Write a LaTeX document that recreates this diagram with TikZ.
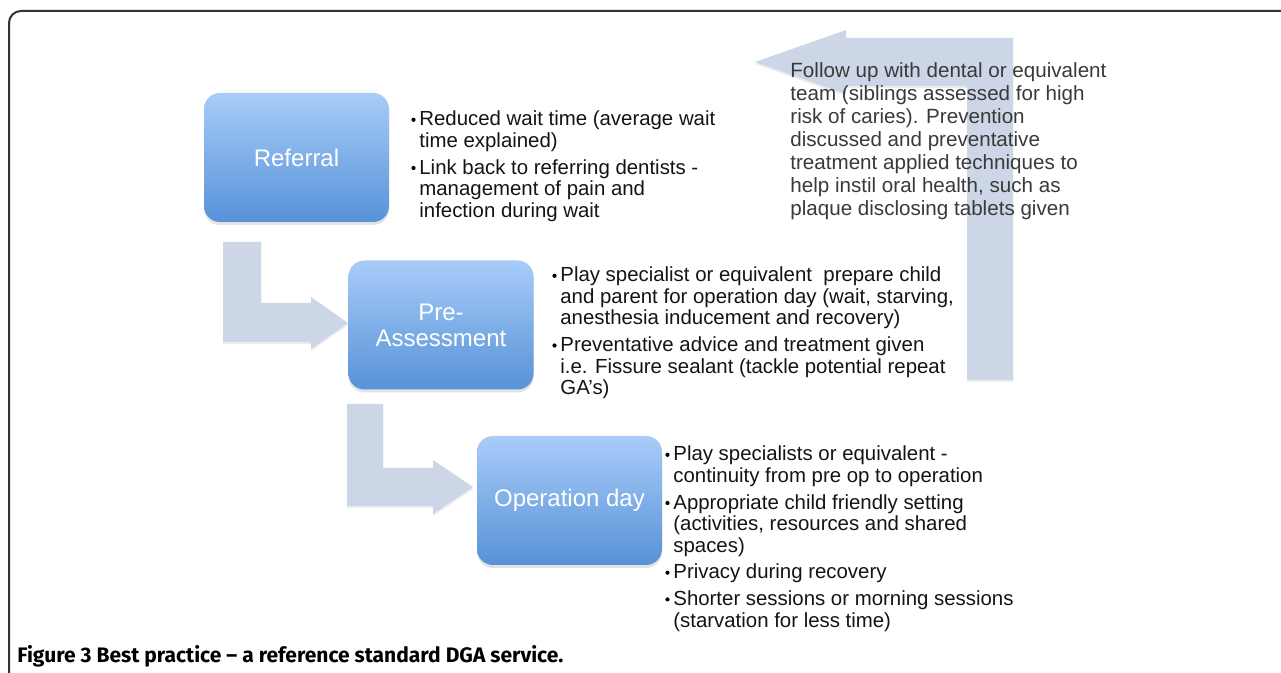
\documentclass[tikz,border=0pt]{standalone}
\usepackage{fontspec}
\setmainfont{Liberation Sans}
\newfontfamily\capfont{Fira Sans}
\usetikzlibrary{shadows}
\definecolor{arrowfill}{HTML}{CCD6E7}
\definecolor{boxtop}{HTML}{A8CCF8}
\definecolor{boxbot}{HTML}{5792D8}
\definecolor{fugrey}{HTML}{3A3A3A}
\definecolor{framecol}{HTML}{333333}
\newcommand\bul{\makebox[4pt][l]{\tikz[baseline=0pt]{\fill[black] (1pt,3.1pt) circle (1.05pt); \path (0,0);}}}
\newcommand\ind{\hspace*{4pt}}
\begin{document}
\begin{tikzpicture}[x=0.5pt,y=-0.5pt,
  stage/.style={rounded corners=8pt, top color=boxtop, bottom color=boxbot, draw=none,
    minimum width=92.5pt, minimum height=64.5pt, text=white,
    font=\fontsize{12}{13}\selectfont, align=center, inner sep=0pt,
    drop shadow={shadow xshift=0pt, shadow yshift=-1.5pt, opacity=0.22}},
  blockarrow/.style={fill=arrowfill, draw=none,
    drop shadow={shadow xshift=0pt, shadow yshift=-1pt, opacity=0.15}},
  notes/.style={anchor=base west, inner sep=0pt, font=\fontsize{10.2}{10.75}\selectfont, text=black!92}
]
\fill[white] (0,0) rectangle (1281,673);
\useasboundingbox (0,0) rectangle (1281,673);
% frame
\draw[line width=1pt, framecol, rounded corners=6pt] (9,673) -- (9,11) -- (1282,11);

% big return arrow
\path[blockarrow] (1013,38) -- (1013,380) -- (967,380) -- (967,86) -- (846,86) -- (846,94)
  -- (755,62) -- (846,30) -- (846,38) -- cycle;

% bent arrows
\path[blockarrow] (223,242) -- (261,242) -- (261,303) -- (311,303) -- (311,297) -- (348,323)
  -- (311,349) -- (311,342) -- (223,342) -- cycle;
\path[blockarrow] (347,404) -- (383,404) -- (383,468) -- (433,468) -- (433,460) -- (473,487)
  -- (433,514) -- (433,506) -- (347,506) -- cycle;

% stages
\node[stage] (ref) at (296.5,157.5) {Referral};
\node[stage] (pre) at (441,325) {Pre-\\Assessment};
\node[stage] (op) at (569.5,500.5) {Operation day};

% notes
\node[notes] (refnotes) at (411,126) {\begin{tabular}[t]{@{}l@{}}
\bul Reduced wait time (average wait\\
\ind time explained)\\[2.6pt]
\bul Link back to referring dentists -\\
\ind management of pain and\\
\ind infection during wait
\end{tabular}};

\node[notes] (prenotes) at (552,282) {\begin{tabular}[t]{@{}l@{}}
\bul Play specialist or equivalent\ \ prepare child\\
\ind and parent for operation day (wait, starving,\\
\ind anesthesia inducement and recovery)\\[2.6pt]
\bul Preventative advice and treatment given\\
\ind i.e. Fissure sealant (tackle potential repeat\\
\ind GA's)
\end{tabular}};

\node[notes] (opnotes) at (665,461) {\begin{tabular}[t]{@{}l@{}}
\bul Play specialists or equivalent -\\
\ind continuity from pre op to operation\\[2.6pt]
\bul Appropriate child friendly setting\\
\ind (activities, resources and shared\\
\ind spaces)\\[2.6pt]
\bul Privacy during recovery\\[2.6pt]
\bul Shorter sessions or morning sessions\\
\ind (starvation for less time)
\end{tabular}};

\node[anchor=base west, inner sep=0pt, text=fugrey, font=\fontsize{10.3}{11.5}\selectfont] (follow) at (790,78) {\begin{tabular}[t]{@{}l@{}}
Follow up with dental or equivalent\\
team (siblings assessed for high\\
risk of caries). Prevention\\
discussed and preventative\\
treatment applied techniques to\\
help instil oral health, such as\\
plaque disclosing tablets given
\end{tabular}};

% caption
\node[anchor=base west, inner sep=0pt, font=\capfont\fontsize{10.5}{11}\selectfont] (caption) at (17,663)
  {\textbf{Figure 3 Best practice – a reference standard DGA service.}};
\end{tikzpicture}
\end{document}
